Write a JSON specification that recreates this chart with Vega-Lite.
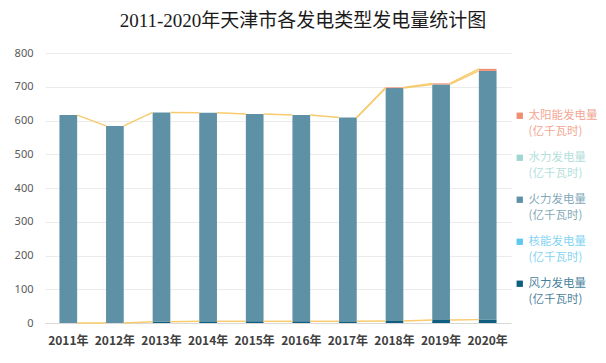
{
  "$schema": "https://vega.github.io/schema/vega-lite/v6.json",
  "width": 466,
  "height": 270,
  "autosize": "none",
  "padding": {"left": 45, "top": 53, "right": 95, "bottom": 40},
  "background": "white",
  "title": {
    "text": "2011-2020年天津市各发电类型发电量统计图",
    "font": "Liberation Serif, Noto Sans CJK SC",
    "fontSize": 19,
    "fontWeight": "normal",
    "color": "#1A1A1A",
    "anchor": "middle",
    "frame": "group",
    "dx": 25,
    "offset": 16
  },
  "datasets": {
    "bars": [
      {"year": "2011年", "type": "风力发电量", "v": 0},
      {"year": "2011年", "type": "火力发电量", "v": 616},
      {"year": "2012年", "type": "风力发电量", "v": 0},
      {"year": "2012年", "type": "火力发电量", "v": 584},
      {"year": "2013年", "type": "风力发电量", "v": 4},
      {"year": "2013年", "type": "火力发电量", "v": 620},
      {"year": "2014年", "type": "风力发电量", "v": 5},
      {"year": "2014年", "type": "火力发电量", "v": 618},
      {"year": "2015年", "type": "风力发电量", "v": 5},
      {"year": "2015年", "type": "火力发电量", "v": 614},
      {"year": "2016年", "type": "风力发电量", "v": 5},
      {"year": "2016年", "type": "火力发电量", "v": 611},
      {"year": "2017年", "type": "风力发电量", "v": 5},
      {"year": "2017年", "type": "火力发电量", "v": 604},
      {"year": "2018年", "type": "风力发电量", "v": 6},
      {"year": "2018年", "type": "火力发电量", "v": 690},
      {"year": "2018年", "type": "太阳能发电量", "v": 2},
      {"year": "2019年", "type": "风力发电量", "v": 9},
      {"year": "2019年", "type": "火力发电量", "v": 698},
      {"year": "2019年", "type": "太阳能发电量", "v": 3},
      {"year": "2020年", "type": "风力发电量", "v": 10},
      {"year": "2020年", "type": "火力发电量", "v": 737},
      {"year": "2020年", "type": "太阳能发电量", "v": 6}
    ],
    "lines": [
      {"from": "2011年", "to": "2012年", "v1": 616, "v2": 584},
      {"from": "2012年", "to": "2013年", "v1": 584, "v2": 624},
      {"from": "2013年", "to": "2014年", "v1": 624, "v2": 623},
      {"from": "2014年", "to": "2015年", "v1": 623, "v2": 619},
      {"from": "2015年", "to": "2016年", "v1": 619, "v2": 616},
      {"from": "2016年", "to": "2017年", "v1": 616, "v2": 609},
      {"from": "2017年", "to": "2018年", "v1": 609, "v2": 698},
      {"from": "2018年", "to": "2019年", "v1": 698, "v2": 710},
      {"from": "2019年", "to": "2020年", "v1": 710, "v2": 753},
      {"from": "2017年", "to": "2018年", "v1": 609, "v2": 696},
      {"from": "2018年", "to": "2019年", "v1": 696, "v2": 707},
      {"from": "2019年", "to": "2020年", "v1": 707, "v2": 747},
      {"from": "2011年", "to": "2012年", "v1": 0, "v2": 0},
      {"from": "2012年", "to": "2013年", "v1": 0, "v2": 4},
      {"from": "2013年", "to": "2014年", "v1": 4, "v2": 5},
      {"from": "2014年", "to": "2015年", "v1": 5, "v2": 5},
      {"from": "2015年", "to": "2016年", "v1": 5, "v2": 5},
      {"from": "2016年", "to": "2017年", "v1": 5, "v2": 5},
      {"from": "2017年", "to": "2018年", "v1": 5, "v2": 6},
      {"from": "2018年", "to": "2019年", "v1": 6, "v2": 9},
      {"from": "2019年", "to": "2020年", "v1": 9, "v2": 10}
    ]
  },
  "layer": [
    {
      "data": {"name": "bars"},
      "mark": {"type": "bar"},
      "encoding": {
        "x": {
          "field": "year",
          "type": "nominal",
          "scale": {"paddingInner": 0.62, "paddingOuter": 0.31},
          "axis": {
            "title": null,
            "labelAngle": 0,
            "labelFont": "Noto Sans CJK SC",
            "labelFontWeight": "bold",
            "labelFontSize": 12,
            "labelColor": "#404040",
            "domainColor": "#D9D9D9",
            "domainWidth": 1,
            "ticks": false,
            "labelPadding": 12
          }
        },
        "y": {
          "field": "v",
          "type": "quantitative",
          "stack": "zero",
          "scale": {"domain": [0, 800]},
          "axis": {
            "title": null,
            "values": [0, 100, 200, 300, 400, 500, 600, 700, 800],
            "labelOverlap": false,
            "grid": true,
            "gridColor": "#EBEBEB",
            "domain": false,
            "ticks": false,
            "labelPadding": 12,
            "labelFont": "Noto Sans",
            "labelFontSize": 11,
            "labelColor": "#595959"
          }
        },
        "color": {
          "field": "type",
          "type": "nominal",
          "scale": {
            "domain": ["太阳能发电量", "水力发电量", "火力发电量", "核能发电量", "风力发电量"],
            "range": ["#F08C72", "#9ED6D2", "#5E90A6", "#5FC8F0", "#0F5E80"]
          },
          "legend": {
            "title": null,
            "orient": "none",
            "legendX": 469,
            "legendY": 57,
            "symbolType": "square",
            "symbolSize": 40,
            "symbolStrokeWidth": 0,
            "labelFont": "Noto Sans CJK SC",
            "labelFontSize": 11.5,
            "labelOpacity": 0.8,
            "labelExpr": "[datum.label, '(亿千瓦时)']",
            "rowPadding": 13,
            "labelOffset": 3,
            "encode": {
              "labels": {"update": {"fill": {"scale": "color", "field": "value"}, "lineHeight": {"value": 16}}}
            }
          }
        },
        "order": {"field": "type", "sort": "descending"}
      }
    },
    {
      "data": {"name": "lines"},
      "mark": {"type": "rule", "color": "#F7CB6E", "strokeWidth": 1.5},
      "encoding": {
        "x": {"field": "from", "type": "nominal", "bandPosition": 1},
        "x2": {"field": "to", "bandPosition": 0},
        "y": {
          "field": "v1",
          "type": "quantitative",
          "axis": {
            "title": null,
            "values": [0, 100, 200, 300, 400, 500, 600, 700, 800],
            "labelOverlap": false,
            "grid": true,
            "gridColor": "#EBEBEB",
            "domain": false,
            "ticks": false,
            "labelPadding": 12,
            "labelFont": "Noto Sans",
            "labelFontSize": 11,
            "labelColor": "#595959"
          }
        },
        "y2": {"field": "v2"}
      }
    }
  ],
  "config": {"view": {"stroke": null}}
}
